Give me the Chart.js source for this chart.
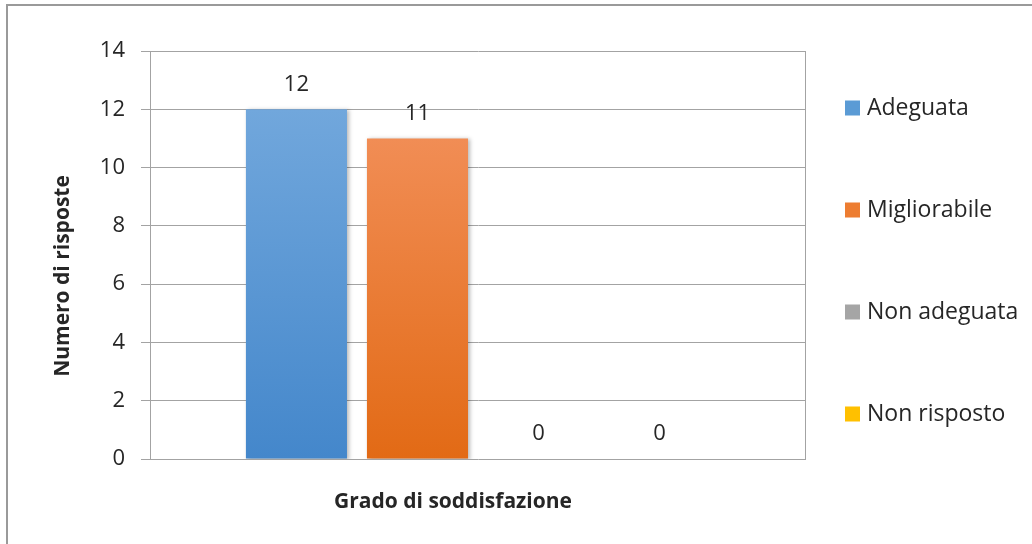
<!DOCTYPE html>
<html>
<head>
<meta charset="utf-8">
<script src="https://cdn.jsdelivr.net/npm/chart.js@4.4.1/dist/chart.umd.min.js"></script>
<style>
  html, body { margin: 0; padding: 0; background: #fff; }
  body { width: 1032px; height: 544px; overflow: hidden; position: relative; }
  #frame { position: absolute; left: 6px; top: 4px; width: 1100px; height: 600px; border: 2px solid #9a9a9a; }
  #wrap { position: absolute; left: 0; top: 0; width: 1032px; height: 544px; }
</style>
</head>
<body>
<div id="frame"></div>
<div id="wrap"><canvas id="bar-chart"></canvas></div>
<script>
const categories = [''];
const seriesNames = ['Adeguata', 'Migliorabile', 'Non adeguata', 'Non risposto'];
const seriesValues = [[12], [11], [0], [0]];
const yTicks = [0, 2, 4, 6, 8, 10, 12, 14];
const xTitle = 'Grado di soddisfazione';
const yTitle = 'Numero di risposte';

// light top -> darker bottom, like the Office gradient fill
const seriesColors = [
  ['#71a7dc', '#4487cb'],
  ['#f18d55', '#e26a15'],
  ['#b8b8b8', '#979797'],
  ['#ffcd38', '#f0b400'],
];
const swatchColors = ['#5b9bd5', '#ed7d31', '#a5a5a5', '#ffc000'];

const gridColor = '#a3a3a3';
const textColor = '#262626';
const fontFamily = '"Open Sans", sans-serif';

function barFill(idx) {
  return (context) => {
    const chart = context.chart;
    const [light, dark] = seriesColors[idx];
    if (!chart.chartArea || context.raw === undefined) return light;
    const y = chart.scales.y;
    const top = y.getPixelForValue(context.raw);
    const base = y.getPixelForValue(0);
    if (base - top < 1) return dark;
    const g = chart.ctx.createLinearGradient(0, top, 0, base);
    g.addColorStop(0, light);
    g.addColorStop(1, dark);
    return g;
  };
}

const datasets = seriesNames.map((name, i) => ({
  label: name,
  data: seriesValues[i],
  backgroundColor: barFill(i),
  borderWidth: 0,
}));

const barShadow = {
  id: 'barShadow',
  beforeDatasetsDraw(chart) {
    const c = chart.ctx;
    c.save();
    c.shadowColor = 'rgba(0, 0, 0, 0.28)';
    c.shadowBlur = 4;
    c.shadowOffsetX = 2;
    c.shadowOffsetY = 1;
  },
  afterDatasetsDraw(chart) {
    chart.ctx.restore();
  },
};

const dataLabels = {
  id: 'dataLabels',
  afterDatasetsDraw(chart) {
    const c = chart.ctx;
    c.save();
    c.font = '22px ' + fontFamily;
    c.fillStyle = textColor;
    c.textAlign = 'center';
    c.textBaseline = 'middle';
    chart.data.datasets.forEach((ds, i) => {
      chart.getDatasetMeta(i).data.forEach((bar, j) => {
        c.fillText(String(ds.data[j]), bar.x, bar.y - 25);
      });
    });
    c.restore();
  },
};

// right edge of plot area, axis titles and the spaced-out legend
const excelFrame = {
  id: 'excelFrame',
  afterDraw(chart) {
    const c = chart.ctx;
    const a = chart.chartArea;
    c.save();
    c.strokeStyle = gridColor;
    c.lineWidth = 1;
    c.beginPath();
    c.moveTo(Math.round(a.right) - 0.5, a.top);
    c.lineTo(Math.round(a.right) - 0.5, a.bottom);
    c.stroke();

    c.fillStyle = textColor;
    c.font = 'bold 21px ' + fontFamily;
    c.textAlign = 'center';
    c.textBaseline = 'middle';
    c.fillText(xTitle, (a.left + a.right) / 2 - 25, a.bottom + 43);
    c.save();
    c.translate(63, (a.top + a.bottom) / 2 + 21);
    c.rotate(-Math.PI / 2);
    c.fillText(yTitle, 0, 0);
    c.restore();

    c.font = '23px ' + fontFamily;
    c.textAlign = 'left';
    const lx = a.right + 39;
    seriesNames.forEach((name, i) => {
      const cy = 108 + i * 102;
      c.fillStyle = swatchColors[i];
      c.fillRect(lx, cy - 7.5, 15, 15);
      c.fillStyle = textColor;
      c.fillText(name, lx + 22, cy);
    });
    c.restore();
  },
};

new Chart(document.getElementById('bar-chart'), {
  type: 'bar',
  data: {
    labels: categories,
    datasets,
  },
  options: {
    responsive: true,
    maintainAspectRatio: false,
    animation: false,
    layout: {
      padding: { top: 51, right: 226, bottom: 85, left: 0 },
    },
    datasets: {
      bar: {
        categoryPercentage: 0.738,
        barPercentage: 0.835,
      },
    },
    scales: {
      x: {
        display: false,
      },
      y: {
        min: 0,
        max: 14,
        afterBuildTicks(scale) {
          scale.ticks = yTicks.map((v) => ({ value: v }));
        },
        afterFit(scale) {
          scale.width = 150;
        },
        ticks: {
          padding: 16,
          color: textColor,
          font: { family: fontFamily, size: 22 },
        },
        grid: {
          color: gridColor,
          tickLength: 9,
        },
        border: {
          color: gridColor,
        },
      },
    },
    plugins: {
      legend: { display: false },
      tooltip: { enabled: false },
    },
  },
  plugins: [barShadow, dataLabels, excelFrame],
});
</script>
</body>
</html>
